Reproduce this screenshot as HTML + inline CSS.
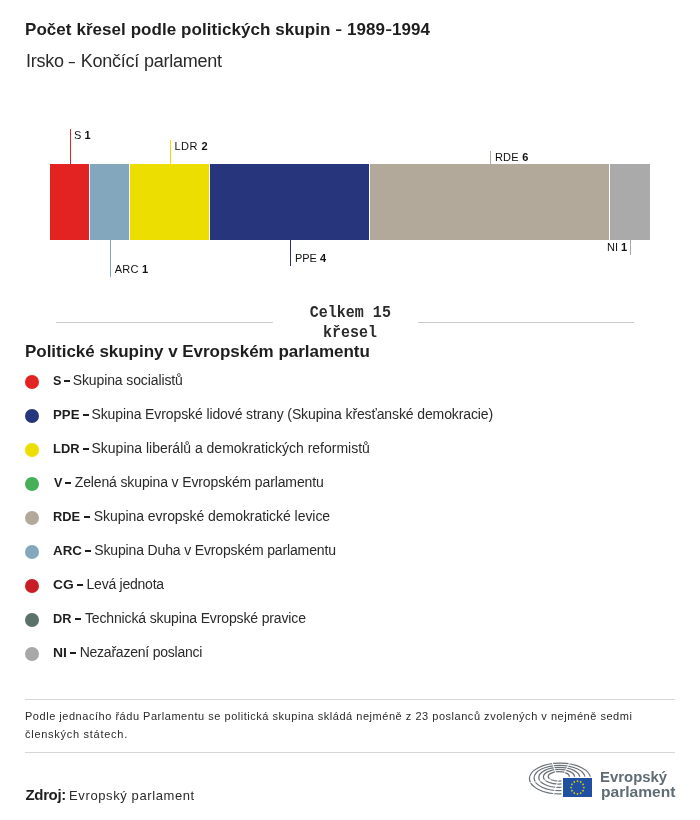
<!DOCTYPE html>
<html><head><meta charset="utf-8">
<style>
html,body{margin:0;padding:0;background:#fff;}
body{width:700px;height:820px;position:relative;overflow:hidden;font-family:"Liberation Sans",sans-serif;}
.seg{position:absolute;top:164px;height:76px;}
.tick{position:absolute;width:1px;}
.hr{position:absolute;height:1px;background:#d6d6d6;}
.dash{position:absolute;height:1.7px;background:#1e1e1e;}
.dot{position:absolute;left:25px;width:14px;height:14px;border-radius:50%;}
b{font-weight:bold;}
</style></head><body>
<div id="wrap" style="position:absolute;left:0;top:0;width:700px;height:820px;will-change:transform;">
<div class="seg" style="left:50px;width:39px;background:#e32322;"></div>
<div class="seg" style="left:90px;width:39px;background:#83a8be;"></div>
<div class="seg" style="left:130px;width:79px;background:#ebde00;"></div>
<div class="seg" style="left:210px;width:159px;background:#27357c;"></div>
<div class="seg" style="left:370px;width:239px;background:#b2a99b;"></div>
<div class="seg" style="left:610px;width:40px;background:#aaaaaa;"></div>
<div class="tick" style="left:70px;top:129px;height:35px;background:#e32322;"></div>
<div class="tick" style="left:110px;top:240px;height:37px;background:#83a8be;"></div>
<div class="tick" style="left:170px;top:140px;height:24px;background:#ebde00;"></div>
<div class="tick" style="left:290px;top:240px;height:26px;background:#27357c;"></div>
<div class="tick" style="left:490px;top:151px;height:13px;background:#b2a99b;"></div>
<div class="tick" style="left:630px;top:240px;height:15px;background:#a8a8a8;"></div>
<div class="hr" style="left:56px;width:217px;top:322px;background:#cbcbcb;"></div>
<div class="hr" style="left:418px;width:216px;top:322px;background:#cbcbcb;"></div>
<div class="dot" style="top:375px;background:#e32322;"></div>
<div class="dot" style="top:409px;background:#27357c;"></div>
<div class="dot" style="top:443px;background:#ebde00;"></div>
<div class="dot" style="top:477px;background:#46b058;"></div>
<div class="dot" style="top:511px;background:#b2a99b;"></div>
<div class="dot" style="top:545px;background:#83a8be;"></div>
<div class="dot" style="top:579px;background:#c81d25;"></div>
<div class="dot" style="top:613px;background:#5a7269;"></div>
<div class="dot" style="top:647px;background:#a8a8a8;"></div>
<div class="dash" style="left:64.2px;width:5.7px;top:380.4px;"></div>
<div class="dash" style="left:83.0px;width:5.7px;top:414.4px;"></div>
<div class="dash" style="left:83.0px;width:5.7px;top:448.4px;"></div>
<div class="dash" style="left:65.3px;width:5.7px;top:482.4px;"></div>
<div class="dash" style="left:84.3px;width:5.5px;top:516.4px;"></div>
<div class="dash" style="left:85.3px;width:5.7px;top:550.4px;"></div>
<div class="dash" style="left:77.2px;width:5.8px;top:584.4px;"></div>
<div class="dash" style="left:75.1px;width:5.6px;top:618.4px;"></div>
<div class="dash" style="left:70.4px;width:5.3px;top:652.4px;"></div>
<div class="hr" style="left:25px;width:650px;top:699px;"></div>
<div class="hr" style="left:25px;width:650px;top:752px;"></div>
<svg style="position:absolute;left:0;top:0;" width="700" height="820" viewBox="0 0 700 820">
 <g fill="none" stroke="#6c7378" stroke-width="1.25">
  <ellipse cx="560.0" cy="778.6" rx="30.6" ry="15.4"/>
  <ellipse cx="559.6" cy="778.0" rx="25.5" ry="12.7"/>
  <ellipse cx="559.3" cy="777.4" rx="20.5" ry="10.0"/>
  <ellipse cx="559.0" cy="776.8" rx="15.6" ry="7.4"/>
  <ellipse cx="558.8" cy="776.4" rx="10.6" ry="4.7"/>
 </g>
 <g stroke="#fff" stroke-width="1.0">
  <line x1="556.5" y1="775" x2="551.5" y2="760"/>
  <line x1="558.5" y1="779" x2="552" y2="799"/>
  <line x1="564" y1="774" x2="571" y2="760"/>
  <line x1="556" y1="778" x2="524" y2="784"/>
 </g>
 <rect x="561.5" y="776.8" width="32" height="22" fill="#fff"/>
 <rect x="563" y="778" width="29" height="19" fill="#2050a2"/>
 <g fill="#eed600"><circle cx="577.50" cy="781.10" r="0.85"/><circle cx="580.70" cy="781.96" r="0.85"/><circle cx="583.04" cy="784.30" r="0.85"/><circle cx="583.90" cy="787.50" r="0.85"/><circle cx="583.04" cy="790.70" r="0.85"/><circle cx="580.70" cy="793.04" r="0.85"/><circle cx="577.50" cy="793.90" r="0.85"/><circle cx="574.30" cy="793.04" r="0.85"/><circle cx="571.96" cy="790.70" r="0.85"/><circle cx="571.10" cy="787.50" r="0.85"/><circle cx="571.96" cy="784.30" r="0.85"/><circle cx="574.30" cy="781.96" r="0.85"/></g>
</svg>
<div id="title" style="position:absolute;white-space:nowrap;left:25.00px;top:19.58px;font-family:'Liberation Sans', sans-serif;font-size:17px;line-height:20.40px;font-weight:bold;color:#1e1e1e;letter-spacing:0.060px;">Počet křesel podle politických skupin <span style="display:inline-block;transform:scaleX(0.62);margin:0 -1.3px">–</span> 1989<span style="display:inline-block;transform:scaleX(0.62);margin:0 -1.3px">–</span>1994</div>
<div id="sub" style="position:absolute;white-space:nowrap;left:26.00px;top:50.58px;font-family:'Liberation Sans', sans-serif;font-size:18px;line-height:21.60px;font-weight:normal;color:#2a2a2a;letter-spacing:-0.225px;">Irsko <span style="display:inline-block;transform:scaleX(0.62);margin:0 -1.3px">–</span> Končící parlament</div>
<div id="lS" style="position:absolute;white-space:nowrap;left:74.00px;top:129.14px;font-family:'Liberation Sans', sans-serif;font-size:11px;line-height:13.20px;font-weight:normal;color:#111;letter-spacing:0.000px;">S <b>1</b></div>
<div id="lLDR" style="position:absolute;white-space:nowrap;left:174.50px;top:140.14px;font-family:'Liberation Sans', sans-serif;font-size:11px;line-height:13.20px;font-weight:normal;color:#111;letter-spacing:0.500px;">LDR <b>2</b></div>
<div id="lARC" style="position:absolute;white-space:nowrap;left:114.80px;top:263.14px;font-family:'Liberation Sans', sans-serif;font-size:11px;line-height:13.20px;font-weight:normal;color:#111;letter-spacing:0.200px;">ARC <b>1</b></div>
<div id="lPPE" style="position:absolute;white-space:nowrap;left:294.90px;top:252.14px;font-family:'Liberation Sans', sans-serif;font-size:11px;line-height:13.20px;font-weight:normal;color:#111;letter-spacing:0.000px;">PPE <b>4</b></div>
<div id="lRDE" style="position:absolute;white-space:nowrap;left:494.90px;top:151.14px;font-family:'Liberation Sans', sans-serif;font-size:11px;line-height:13.20px;font-weight:normal;color:#111;letter-spacing:0.250px;">RDE <b>6</b></div>
<div id="lNI" style="position:absolute;white-space:nowrap;left:607.00px;top:241.14px;font-family:'Liberation Sans', sans-serif;font-size:11px;line-height:13.20px;font-weight:normal;color:#111;letter-spacing:0.000px;">NI <b>1</b></div>
<div id="tot1" style="position:absolute;white-space:nowrap;left:309.70px;top:303.70px;font-family:'Liberation Mono', monospace;font-size:15px;line-height:18.00px;font-weight:bold;color:#2a2a2a;letter-spacing:0.025px;transform:scaleY(1.1);transform-origin:0 0;">Celkem 15</div>
<div id="tot2" style="position:absolute;white-space:nowrap;left:323.00px;top:324.10px;font-family:'Liberation Mono', monospace;font-size:15px;line-height:18.00px;font-weight:bold;color:#2a2a2a;letter-spacing:0.000px;transform:scaleY(1.1);transform-origin:0 0;">křesel</div>
<div id="lhead" style="position:absolute;white-space:nowrap;left:25.00px;top:341.58px;font-family:'Liberation Sans', sans-serif;font-size:17px;line-height:20.40px;font-weight:bold;color:#1e1e1e;letter-spacing:-0.026px;">Politické skupiny v Evropském parlamentu</div>
<div id="note1" style="position:absolute;white-space:nowrap;left:25.00px;top:710.14px;font-family:'Liberation Sans', sans-serif;font-size:11px;line-height:13.20px;font-weight:normal;color:#2a2a2a;letter-spacing:0.528px;">Podle jednacího řádu Parlamentu se politická skupina skládá nejméně z 23 poslanců zvolených v nejméně sedmi</div>
<div id="note2" style="position:absolute;white-space:nowrap;left:25.00px;top:728.14px;font-family:'Liberation Sans', sans-serif;font-size:11px;line-height:13.20px;font-weight:normal;color:#2a2a2a;letter-spacing:0.724px;">členských státech.</div>
<div id="zb" style="position:absolute;white-space:nowrap;left:25.50px;top:785.76px;font-family:'Liberation Sans', sans-serif;font-size:15px;line-height:18.00px;font-weight:bold;color:#1e1e1e;letter-spacing:-0.350px;">Zdroj:</div>
<div id="zr" style="position:absolute;white-space:nowrap;left:69.10px;top:787.92px;font-family:'Liberation Sans', sans-serif;font-size:13px;line-height:15.60px;font-weight:normal;color:#2a2a2a;letter-spacing:0.600px;">Evropský parlament</div>
<div id="logo1" style="position:absolute;white-space:nowrap;left:599.70px;top:767.85px;font-family:'Liberation Sans', sans-serif;font-size:15px;line-height:18.00px;font-weight:bold;color:#606c74;letter-spacing:0.000px;transform:scaleX(0.9941);transform-origin:0 0;">Evropský</div>
<div id="logo2" style="position:absolute;white-space:nowrap;left:600.50px;top:782.85px;font-family:'Liberation Sans', sans-serif;font-size:15px;line-height:18.00px;font-weight:bold;color:#606c74;letter-spacing:0.000px;transform:scaleX(1.0389);transform-origin:0 0;">parlament</div>
<div id="b0" style="position:absolute;white-space:nowrap;left:52.87px;top:372.62px;font-family:'Liberation Sans', sans-serif;font-size:13px;line-height:15.60px;font-weight:bold;color:#1e1e1e;letter-spacing:0.000px;transform:scaleX(0.9670);transform-origin:0 0;">S</div>
<div id="r0" style="position:absolute;white-space:nowrap;left:72.71px;top:371.62px;font-family:'Liberation Sans', sans-serif;font-size:14px;line-height:16.80px;font-weight:normal;color:#2a2a2a;letter-spacing:-0.110px;">Skupina socialistů</div>
<div id="b1" style="position:absolute;white-space:nowrap;left:52.87px;top:406.62px;font-family:'Liberation Sans', sans-serif;font-size:13px;line-height:15.60px;font-weight:bold;color:#1e1e1e;letter-spacing:0.000px;transform:scaleX(1.0172);transform-origin:0 0;">PPE</div>
<div id="r1" style="position:absolute;white-space:nowrap;left:91.50px;top:405.62px;font-family:'Liberation Sans', sans-serif;font-size:14px;line-height:16.80px;font-weight:normal;color:#2a2a2a;letter-spacing:-0.109px;">Skupina Evropské lidové strany (Skupina křesťanské demokracie)</div>
<div id="b2" style="position:absolute;white-space:nowrap;left:52.87px;top:440.62px;font-family:'Liberation Sans', sans-serif;font-size:13px;line-height:15.60px;font-weight:bold;color:#1e1e1e;letter-spacing:0.000px;transform:scaleX(0.9949);transform-origin:0 0;">LDR</div>
<div id="r2" style="position:absolute;white-space:nowrap;left:91.50px;top:439.62px;font-family:'Liberation Sans', sans-serif;font-size:14px;line-height:16.80px;font-weight:normal;color:#2a2a2a;letter-spacing:-0.005px;">Skupina liberálů a demokratických reformistů</div>
<div id="b3" style="position:absolute;white-space:nowrap;left:53.87px;top:474.62px;font-family:'Liberation Sans', sans-serif;font-size:13px;line-height:15.60px;font-weight:bold;color:#1e1e1e;letter-spacing:0.000px;transform:scaleX(0.9705);transform-origin:0 0;">V</div>
<div id="r3" style="position:absolute;white-space:nowrap;left:74.71px;top:473.62px;font-family:'Liberation Sans', sans-serif;font-size:14px;line-height:16.80px;font-weight:normal;color:#2a2a2a;letter-spacing:-0.129px;">Zelená skupina v Evropském parlamentu</div>
<div id="b4" style="position:absolute;white-space:nowrap;left:52.87px;top:508.62px;font-family:'Liberation Sans', sans-serif;font-size:13px;line-height:15.60px;font-weight:bold;color:#1e1e1e;letter-spacing:0.000px;transform:scaleX(0.9898);transform-origin:0 0;">RDE</div>
<div id="r4" style="position:absolute;white-space:nowrap;left:93.74px;top:507.62px;font-family:'Liberation Sans', sans-serif;font-size:14px;line-height:16.80px;font-weight:normal;color:#2a2a2a;letter-spacing:-0.049px;">Skupina evropské demokratické levice</div>
<div id="b5" style="position:absolute;white-space:nowrap;left:52.89px;top:542.62px;font-family:'Liberation Sans', sans-serif;font-size:13px;line-height:15.60px;font-weight:bold;color:#1e1e1e;letter-spacing:0.000px;transform:scaleX(1.0264);transform-origin:0 0;">ARC</div>
<div id="r5" style="position:absolute;white-space:nowrap;left:94.25px;top:541.62px;font-family:'Liberation Sans', sans-serif;font-size:14px;line-height:16.80px;font-weight:normal;color:#2a2a2a;letter-spacing:-0.147px;">Skupina Duha v Evropském parlamentu</div>
<div id="b6" style="position:absolute;white-space:nowrap;left:52.89px;top:576.62px;font-family:'Liberation Sans', sans-serif;font-size:13px;line-height:15.60px;font-weight:bold;color:#1e1e1e;letter-spacing:0.000px;transform:scaleX(1.0630);transform-origin:0 0;">CG</div>
<div id="r6" style="position:absolute;white-space:nowrap;left:86.58px;top:575.62px;font-family:'Liberation Sans', sans-serif;font-size:14px;line-height:16.80px;font-weight:normal;color:#2a2a2a;letter-spacing:-0.242px;">Levá jednota</div>
<div id="b7" style="position:absolute;white-space:nowrap;left:52.87px;top:610.62px;font-family:'Liberation Sans', sans-serif;font-size:13px;line-height:15.60px;font-weight:bold;color:#1e1e1e;letter-spacing:0.000px;transform:scaleX(0.9848);transform-origin:0 0;">DR</div>
<div id="r7" style="position:absolute;white-space:nowrap;left:84.94px;top:609.62px;font-family:'Liberation Sans', sans-serif;font-size:14px;line-height:16.80px;font-weight:normal;color:#2a2a2a;letter-spacing:-0.142px;">Technická skupina Evropské pravice</div>
<div id="b8" style="position:absolute;white-space:nowrap;left:52.87px;top:644.62px;font-family:'Liberation Sans', sans-serif;font-size:13px;line-height:15.60px;font-weight:bold;color:#1e1e1e;letter-spacing:0.000px;transform:scaleX(1.0667);transform-origin:0 0;">NI</div>
<div id="r8" style="position:absolute;white-space:nowrap;left:79.63px;top:643.62px;font-family:'Liberation Sans', sans-serif;font-size:14px;line-height:16.80px;font-weight:normal;color:#2a2a2a;letter-spacing:-0.224px;">Nezařazení poslanci</div>
</div>
</body></html>
